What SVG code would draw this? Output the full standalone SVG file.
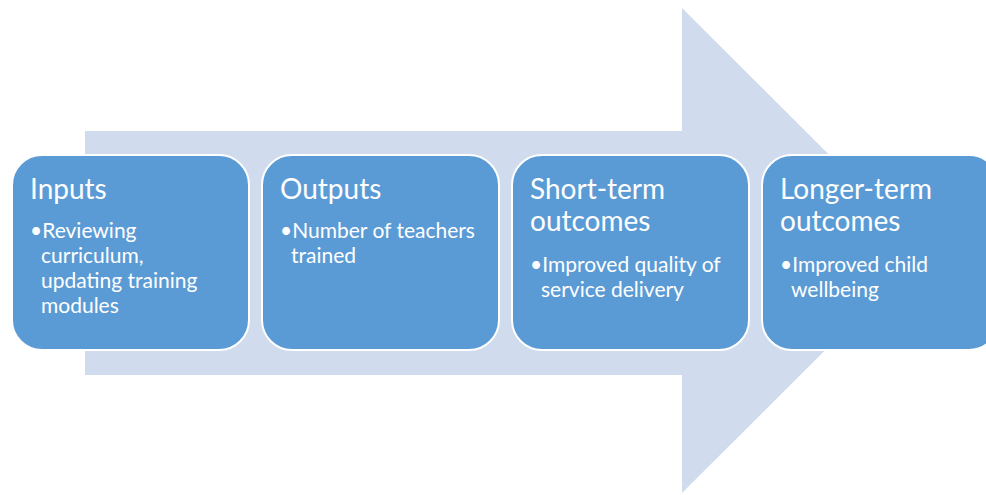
<svg xmlns="http://www.w3.org/2000/svg" width="986" height="495" viewBox="0 0 986 495">
<style>
.box{fill:#5B9BD5;stroke:#FFFFFF;stroke-width:2}
.t{font-family:Lato,"Open Sans","Liberation Sans",sans-serif;fill:#FFFFFF}
.h{font-size:28px}
.b{font-size:21px}
</style>
<rect width="986" height="495" fill="#FFFFFF"/>
<g id="arrow">
<path d="M85,131 H682 V8 L925,250.5 L682,493 V375 H85 Z" fill="#D0DCEE"/>
</g>
<g id="connectors"></g>
<g id="inputs">
<rect class="box" x="12" y="155" width="237" height="195" rx="30"/>
<text class="t h" x="30" y="199">Inputs</text>
<text class="t b" x="30" y="238">•Reviewing</text>
<text class="t b" x="41" y="263">curriculum,</text>
<text class="t b" x="41" y="288">updating training</text>
<text class="t b" x="41" y="313">modules</text>
</g>
<g id="outputs">
<rect class="box" x="262" y="155" width="237" height="195" rx="30"/>
<text class="t h" x="280" y="199">Outputs</text>
<text class="t b" x="280" y="238">•Number of teachers</text>
<text class="t b" x="291" y="263">trained</text>
</g>
<g id="short-term">
<rect class="box" x="512" y="155" width="237" height="195" rx="30"/>
<text class="t h" x="530" y="199">Short-term</text>
<text class="t h" x="530" y="231">outcomes</text>
<text class="t b" x="530" y="272">•Improved quality of</text>
<text class="t b" x="541" y="297">service delivery</text>
</g>
<g id="longer-term">
<rect class="box" x="762" y="155" width="237" height="195" rx="30"/>
<text class="t h" x="780" y="199">Longer-term</text>
<text class="t h" x="780" y="231">outcomes</text>
<text class="t b" x="780" y="272">•Improved child</text>
<text class="t b" x="791" y="297">wellbeing</text>
</g>
</svg>
